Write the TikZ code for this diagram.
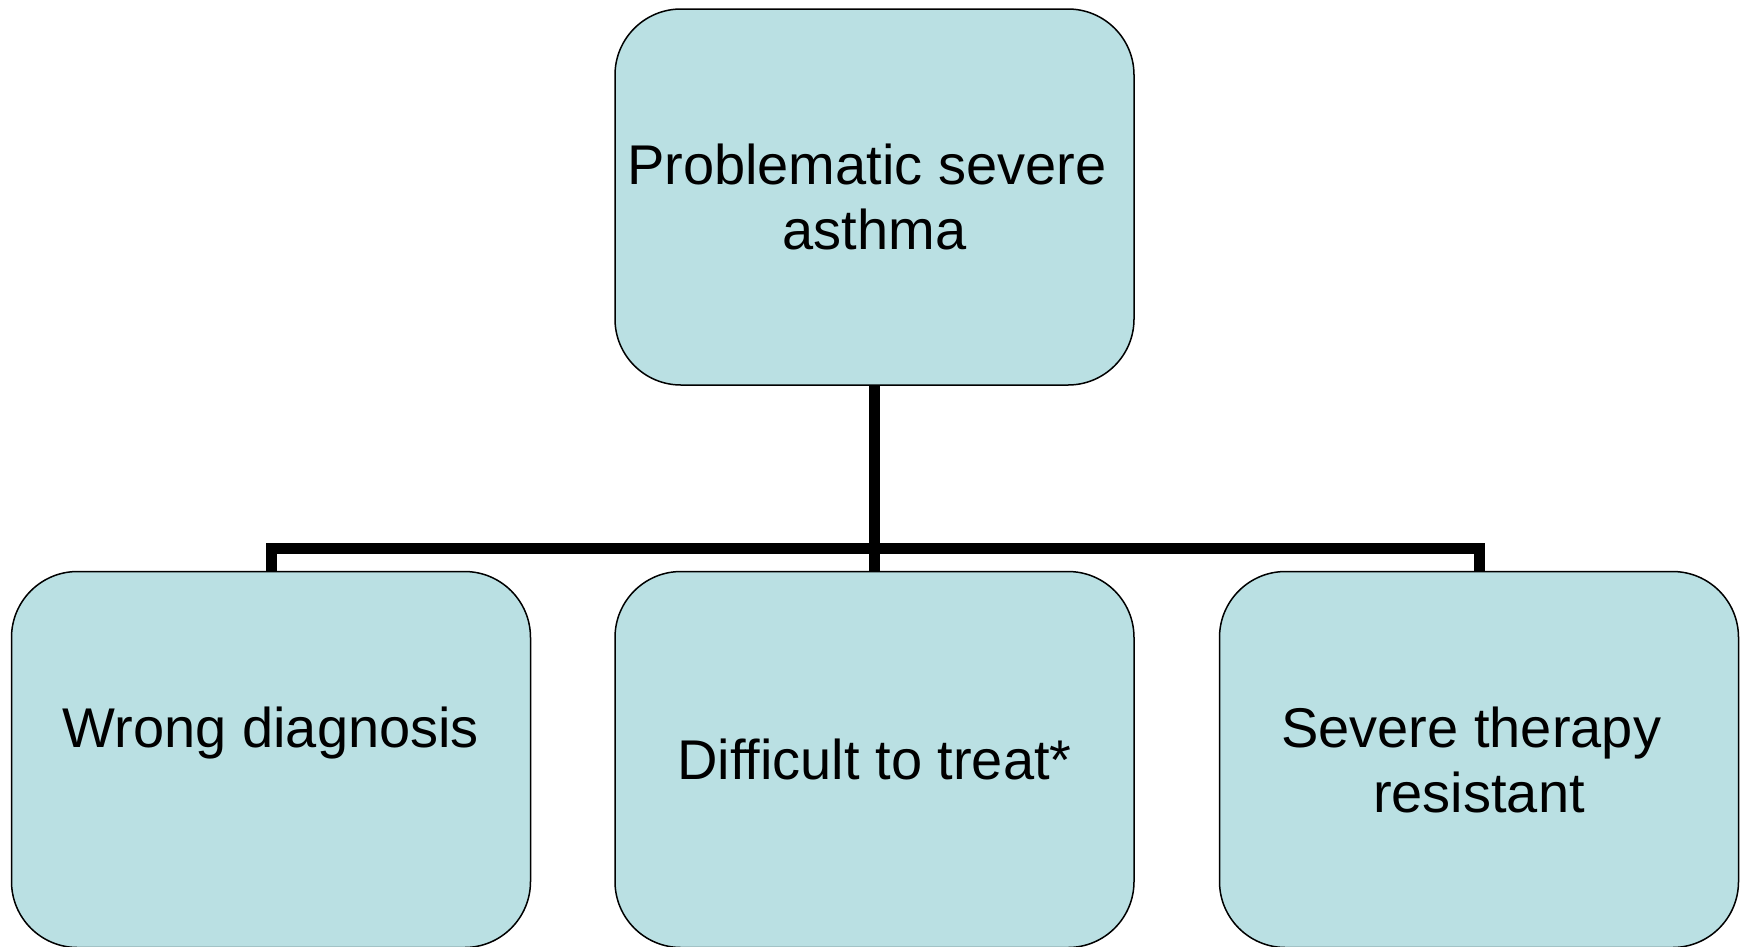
\documentclass[tikz,border=0pt]{standalone}
\usepackage{fontspec}
\setmainfont{Liberation Sans}
\usepackage{tikz}
\usetikzlibrary{positioning}
\definecolor{boxfill}{RGB}{186,224,227}

\begin{document}
\begin{tikzpicture}[x=1pt,y=1pt,node distance=185pt,
  main node/.style={rectangle,rounded corners=66pt,fill=boxfill,draw=black,line width=1.5pt,
    minimum width=519pt,minimum height=376pt,inner sep=0pt,align=center,
    font=\fontsize{56}{65}\selectfont},
  tree line/.style={line width=11pt,line join=miter,line cap=butt}]
  \useasboundingbox (0,0) rectangle (1746,-946);

  \node[main node] (1) at (874.5,-197) {Problematic severe\hspace*{0.278em}\\asthma};
  \node[main node] (3) [below=185pt of 1] {Difficult to treat*};
  \node[main node] (2) [left=83pt of 3] {Wrong diagnosis\\\mbox{}};
  \node[main node] (4) [right=84pt of 3] {Severe therapy\hspace*{0.278em}\\resistant};

  \draw[tree line] (1.south) -- ++(0,-162.5) coordinate (bus);
  \draw[tree line] (2.north) -- (2.north |- bus) -- (4.north |- bus) -- (4.north);
  \draw[tree line] (bus) -- (3.north);

\end{tikzpicture}
\end{document}
